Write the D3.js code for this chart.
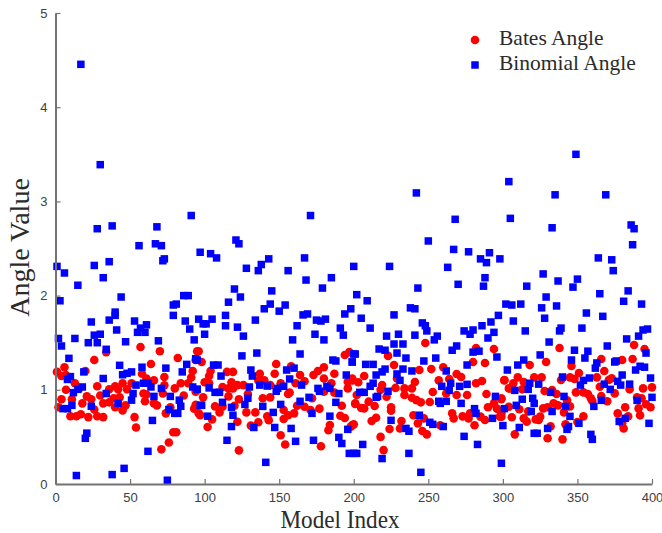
<!DOCTYPE html>
<html>
<head>
<meta charset="utf-8">
<title>Angle Value</title>
<script src="https://cdn.jsdelivr.net/npm/d3@7"></script>
<style>
    html, body { margin: 0; padding: 0; background: #fff; }
    svg { display: block; }
    .tick text { font-family: "Liberation Sans", sans-serif; font-size: 13px; fill: #404040; }
    .domain, .tick line { stroke: #737373; }
    .domain { stroke-width: 2px; }
    .tick line { stroke-width: 1.2px; }
    .label { font-family: "Liberation Serif", serif; fill: #2b2b2b; }
</style>
</head>
<body>
<div id="chart"></div>
<script>
// [model index, angle]
const batesAngle = [
    [1,1.19],[6,1.24],[4,1.146],[7,1.157],[7,1.0],[4,0.90],[2,0.814],[11,0.90],[10,0.72],[14,0.72],[17,0.74],[22,0.71],
    [28,0.72],[32,0.71],[18,0.856],[21,0.93],[24,0.90],[26,0.79],[30,0.94],[32,0.856],[36,0.867],[39,0.91],[43,0.92],
    [40,0.814],[45,0.78],[47,0.835],[13,1.07],[16,1.015],[20,1.20],[26,1.316],[28,1.037],[34,1.40],[36,1.005],[40,1.037],
    [42,1.005],[45,1.07],[48,1.005],[51,1.07],[53,0.71],[54,0.60],[57,1.454],[64,1.274],[70,1.41],[58,1.17],[61,1.12],
    [66,1.10],[59,0.96],[61,0.95],[60,0.878],[66,0.856],[68,0.835],[73,1.136],[73,1.047],[72,0.96],[74,0.75],[77,0.814],
    [80,1.015],[82,1.338],[84,1.07],[86,0.94],[79,0.55],[81,0.55],[76,0.44],[71,0.368],[89,1.07],[91,1.13],[92,1.20],
    [94,0.98],[93,0.80],[95,1.41],[96,0.75],
    [96,1.41],[94,1.316],[98,1.295],[148,1.274],[158,1.25],[180,1.24],[197,1.40],[194,1.37],[119,1.19],[115,1.19],[104,1.20],
    [103,1.146],[100,1.08],[103,1.07],[118,1.08],[122,1.05],[126,1.05],[137,1.17],[136,1.10],[140,1.10],[147,1.17],[144,1.05],
    [151,1.07],[116,1.015],[112,1.03],[116,0.93],[119,1.015],[129,0.955],[144,0.92],[139,0.91],[99,0.92],[94,0.84],[107,0.824],
    [112,0.82],[110,0.76],[120,0.83],[123,0.90],[128,0.76],[134,0.76],[97,0.73],[105,0.686],[102,0.605],[122,0.66],[131,0.62],
    [136,0.655],[142,0.72],[143,0.676],[151,0.517],[154,0.42],[178,0.40],[123,0.357],[153,0.785],[153,0.69],[156,0.73],[160,0.75],
    [156,0.955],[157,0.97],[161,1.07],[164,1.157],[167,1.09],[162,0.83],[167,0.82],[171,0.785],[172,0.91],[177,0.80],[173,1.157],
    [176,1.20],[180,1.12],[185,1.07],[187,1.17],[187,0.97],[192,0.83],[191,0.725],[194,0.70],[184,0.626],[183,0.57],[196,1.015],
    [196,1.086],[199,1.12],[201,0.856],[199,0.626],[180,0.98],
    [248,1.497],[282,1.444],[294,1.433],[223,1.36],[280,1.295],[288,1.285],[227,1.263],[244,1.21],[252,1.22],[260,1.24],[229,1.12],
    [257,1.10],[264,1.115],[269,1.168],[272,1.136],[207,1.146],[203,1.08],[199,1.10],[219,1.05],[241,1.083],[282,1.07],[286,1.093],
    [228,1.02],[234,1.015],[239,1.015],[218,1.0],[253,0.977],[262,0.96],[269,0.945],[276,0.945],[289,0.955],[301,1.10],[304,1.015],
    [234,0.945],[239,0.916],[242,0.89],[245,0.867],[251,0.87],[222,0.927],[202,0.945],[210,0.874],[214,0.828],[201,0.85],[205,0.807],
    [207,0.803],[225,0.814],[225,0.778],[215,0.704],[212,0.669],[200,0.633],[198,0.609],[240,0.73],[247,0.697],[243,0.644],[232,0.669],
    [231,0.59],[224,0.584],[246,0.563],[249,0.527],[258,0.623],[266,0.75],[267,0.697],[273,0.718],[278,0.75],[277,0.697],[281,0.623],
    [285,0.715],[288,0.68],[290,0.814],[294,0.856],[296,0.80],[299,0.91],[298,0.715],[299,0.75],[218,0.5],[220,0.36],[304,0.82],
    [338,1.444],[388,1.476],[395,1.433],[366,1.327],[380,1.316],[387,1.327],[318,1.263],[329,1.295],[346,1.253],[368,1.2],[351,1.178],
    [301,1.104],[310,1.132],[321,1.132],[326,1.132],[339,1.104],[345,1.132],[348,1.115],[363,1.132],[373,1.122],[305,1.015],[307,1.069],
    [314,1.083],[313,1.005],[365,1.033],[371,1.104],[375,0.962],[385,1.005],[394,1.015],[400,1.026],[328,0.987],[333,0.998],[336,0.955],
    [349,0.973],[354,0.973],[357,0.955],[359,0.909],[360,0.881],[366,0.934],[370,0.878],[390,0.92],[393,0.91],[396,0.846],[399,0.814],
    [391,0.803],[392,0.729],[343,0.888],[345,0.824],[341,0.76],[334,0.856],[327,0.803],[330,0.814],[337,0.835],[299,0.9],[311,0.793],
    [317,0.771],[306,0.708],[314,0.697],[316,0.662],[322,0.686],[325,0.715],[324,0.68],[299,0.715],[332,0.612],[342,0.633],[350,0.658],
    [354,0.718],[308,0.527],[330,0.485],[340,0.474],[377,0.75],[382,0.814],[384,0.718],[380,0.644],[381,0.59]
];

const binomialAngle = [
    [17,4.455],[30,3.39],[28,2.71],[38,2.74],[1,2.31],[6,2.24],[15,2.11],[26,2.32],[36,2.36],[32,2.19],[56,2.53],[68,2.73],
    [67,2.55],[71,2.53],[73,2.39],[72,2.37],[91,2.85],[97,2.46],[104,2.445],[108,2.40],[121,2.59],[123,2.55],[128,2.29],[120,2.07],
    [124,1.985],[44,1.985],[86,2.0],[89,2.0],[3,1.945],[116,1.93],
    [242,3.09],[171,2.85],[268,2.81],[250,2.58],[267,2.49],[143,2.39],[167,2.40],[138,2.33],[136,2.265],[156,2.265],[200,2.31],
    [224,2.31],[263,2.30],[168,2.165],[185,2.19],[145,2.05],[179,2.08],[202,2.01],[243,2.08],[270,2.12],[209,1.945],
    [349,3.5],[304,3.21],[335,3.07],[369,3.07],[305,2.82],[333,2.72],[386,2.75],[388,2.71],[387,2.54],[277,2.465],[285,2.39],
    [291,2.455],[289,2.35],[298,2.39],[364,2.40],[373,2.38],[374,2.265],[288,2.19],[287,2.10],[316,2.10],[327,2.23],[337,2.155],
    [350,2.175],[347,2.09],[365,2.02],[384,2.05],[329,1.985],[381,1.94],
    [79,1.90],[81,1.91],[79,1.79],[40,1.825],[40,1.79],[36,1.74],[24,1.72],[53,1.73],[61,1.69],[57,1.655],[41,1.635],[55,1.61],
    [60,1.61],[26,1.58],[30,1.59],[87,1.73],[90,1.645],[96,1.75],[99,1.70],[101,1.70],[105,1.75],[114,1.79],[114,1.68],[122,1.665],
    [100,1.59],[126,1.57],[2,1.545],[13,1.545],
    [144,1.91],[140,1.86],[154,1.90],[150,1.835],[134,1.74],[166,1.795],[169,1.805],[175,1.74],[178,1.73],[181,1.75],[162,1.68],
    [198,1.86],[194,1.805],[205,1.76],[191,1.655],[211,1.655],[227,1.795],[238,1.87],[241,1.86],[246,1.71],[248,1.68],[249,1.625],
    [174,1.59],[193,1.58],[222,1.57],[230,1.59],[241,1.58],[256,1.57],
    [393,1.91],[302,1.91],[306,1.90],[312,1.91],[326,1.87],[336,1.89],[356,1.815],[367,1.78],[297,1.79],[292,1.72],[286,1.68],
    [307,1.73],[328,1.76],[339,1.655],[353,1.655],[338,1.625],[315,1.625],[294,1.61],[280,1.635],[274,1.625],[278,1.59],[397,1.645],
    [394,1.635],[391,1.57],
    [4,1.465],[22,1.50],[28,1.50],[34,1.43],[47,1.51],[69,1.52],[43,1.26],[58,1.24],[74,1.23],[88,1.27],[94,1.33],[93,1.53],
    [9,1.334],[8,1.11],[10,1.14],[19,1.19],[32,1.12],[45,1.16],[48,1.175],[51,1.19],[85,1.19],[54,1.05],[59,1.07],[62,1.07],[64,1.03],
    [71,1.015],[92,1.03],[95,1.005],[18,1.03],[15,1.005],[12,0.97],[34,0.96],[52,0.96],[51,0.89],[66,0.93],[77,0.93],[83,0.89],
    [42,0.855],[24,0.825],[11,0.835],[8,0.80],[5,0.80],[84,0.825],[76,0.79],[80,0.75],[82,0.75],[65,0.675],[21,0.54],[20,0.485],
    [62,0.347],[46,0.166],[38,0.10],[14,0.09],[75,0.04],[97,0.835],
    [159,1.53],[180,1.53],[125,1.36],[135,1.39],[164,1.38],[186,1.316],[188,1.306],[199,1.295],[200,1.38],[106,1.263],[109,1.263],
    [95,1.316],[111,1.146],[131,1.21],[132,1.146],[155,1.21],[160,1.23],[157,1.115],[165,1.05],[195,1.157],[137,1.05],[142,1.04],
    [130,1.03],[103,1.02],[95,1.005],[107,0.973],[110,0.973],[149,1.015],[148,0.984],[153,1.037],[176,1.015],[177,0.984],[182,1.037],
    [184,1.015],[190,0.96],[129,0.91],[127,0.845],[112,0.867],[98,0.835],[118,0.814],[139,0.824],[151,0.845],[164,0.878],[170,0.92],
    [188,0.867],[146,0.76],[172,0.75],[119,0.73],[102,0.72],[184,0.72],[118,0.61],[133,0.60],[147,0.60],[158,0.59],[196,0.58],
    [115,0.464],[161,0.453],[173,0.464],[190,0.495],[192,0.43],[197,0.325],[200,0.325],[141,0.23],
    [227,1.486],[233,1.486],[254,1.53],[290,1.55],[266,1.42],[269,1.465],[280,1.40],[284,1.41],[201,1.38],[217,1.433],[221,1.42],
    [229,1.39],[199,1.295],[208,1.27],[213,1.27],[235,1.337],[255,1.337],[247,1.306],[296,1.348],[276,1.263],[221,1.22],[219,1.19],
    [215,1.157],[233,1.22],[229,1.168],[239,1.2],[262,1.2],[303,1.21],[231,1.10],[213,1.07],[211,1.037],[259,1.037],[265,1.07],
    [264,0.994],[271,1.037],[276,1.058],[223,0.984],[204,0.973],[207,0.973],[216,0.93],[215,0.92],[257,0.878],[258,0.856],[262,0.878],
    [272,0.856],[281,0.80],[282,0.75],[295,0.93],[301,0.80],[293,0.697],[300,0.62],[225,0.676],[244,0.73],[251,0.655],[253,0.633],
    [260,0.61],[235,0.59],[237,0.56],[274,0.506],[206,0.42],[283,0.42],[202,0.325],[219,0.27],[237,0.325],[299,0.22],[245,0.124],
    [331,1.507],[383,1.54],[370,1.465],[348,1.42],[357,1.41],[396,1.39],[325,1.37],[355,1.337],[346,1.316],[314,1.316],[310,1.263],
    [375,1.295],[376,1.306],[363,1.285],[362,1.23],[392,1.25],[395,1.24],[389,1.21],[380,1.157],[399,1.125],[340,1.136],[358,1.125],
    [354,1.10],[352,1.05],[318,1.07],[324,1.06],[368,1.06],[377,1.09],[379,1.05],[385,1.06],[372,1.005],[308,0.994],[317,1.005],
    [332,0.973],[341,0.93],[400,0.92],[366,0.888],[390,0.888],[313,0.90],[320,0.91],[321,0.856],[309,0.835],[333,0.77],[319,0.77],
    [342,0.824],[361,0.824],[345,0.718],[382,0.697],[378,0.665],[351,0.644],[398,0.644],[311,0.60],[344,0.61],[343,0.58],[330,0.59],
    [321,0.538],[323,0.538],[359,0.527],[360,0.474]
];

const xTicks = [0, 50, 100, 150, 200, 250, 300, 350, 400];
const yTicks = [0, 1, 2, 3, 4, 5];
const legendNames = ["Bates Angle", "Binomial Angle"];

const width = 662, height = 533;
const margin = { top: 13, right: 10, bottom: 49, left: 55.5 };

const svg = d3.select("#chart")
    .append("svg")
    .attr("width", width)
    .attr("height", height);

const x = d3.scaleLinear().domain([0, 400]).range([margin.left, width - margin.right]);
const y = d3.scaleLinear().domain([0, 5]).range([height - margin.bottom, margin.top]);

// Points first, axes are drawn above them
const circleRadius = 4.3;
svg.append("g")
    .selectAll("circle")
    .data(batesAngle)
    .enter()
    .append("circle")
    .attr("cx", d => x(d[0]))
    .attr("cy", d => y(d[1]))
    .attr("r", circleRadius)
    .attr("fill", "#ff0000");

const squareSize = 7.5;
svg.append("g")
    .selectAll("rect")
    .data(binomialAngle)
    .enter()
    .append("rect")
    .attr("x", d => x(d[0]) - squareSize / 2)
    .attr("y", d => y(d[1]) - squareSize / 2)
    .attr("width", squareSize)
    .attr("height", squareSize)
    .attr("fill", "#0000ff");

// Ticks point inwards like the original figure
svg.append("g")
    .attr("transform", `translate(0, ${height - margin.bottom})`)
    .call(d3.axisBottom(x).tickValues(xTicks).tickSizeInner(-5).tickSizeOuter(0).tickPadding(9))
    .call(g => g.selectAll(".tick text").attr("dy", "0.71em"));

svg.append("g")
    .attr("transform", `translate(${margin.left}, 0)`)
    .call(d3.axisLeft(y).tickValues(yTicks).tickFormat(d3.format("d")).tickSizeInner(-5).tickSizeOuter(0).tickPadding(8));

// Axis titles
svg.append("text")
    .attr("class", "label")
    .attr("x", 340)
    .attr("y", 528)
    .attr("text-anchor", "middle")
    .attr("textLength", 119)
    .attr("lengthAdjust", "spacingAndGlyphs")
    .style("font-size", "25px")
    .text("Model Index");

svg.append("text")
    .attr("class", "label")
    .attr("transform", "translate(29, 247.5) rotate(-90)")
    .attr("text-anchor", "middle")
    .style("font-size", "28px")
    .text("Angle Value");

// Legend
const legend = svg.append("g");

legend.append("circle")
    .attr("cx", 475)
    .attr("cy", 40)
    .attr("r", circleRadius)
    .attr("fill", "#ff0000");

legend.append("rect")
    .attr("x", 475 - squareSize / 2)
    .attr("y", 65 - squareSize / 2)
    .attr("width", squareSize)
    .attr("height", squareSize)
    .attr("fill", "#0000ff");

legend.selectAll("text")
    .data(legendNames)
    .enter()
    .append("text")
    .attr("class", "label")
    .attr("x", 499)
    .attr("y", (d, i) => 45 + i * 25)
    .style("font-size", "21.5px")
    .text(d => d);
</script>
</body>
</html>
